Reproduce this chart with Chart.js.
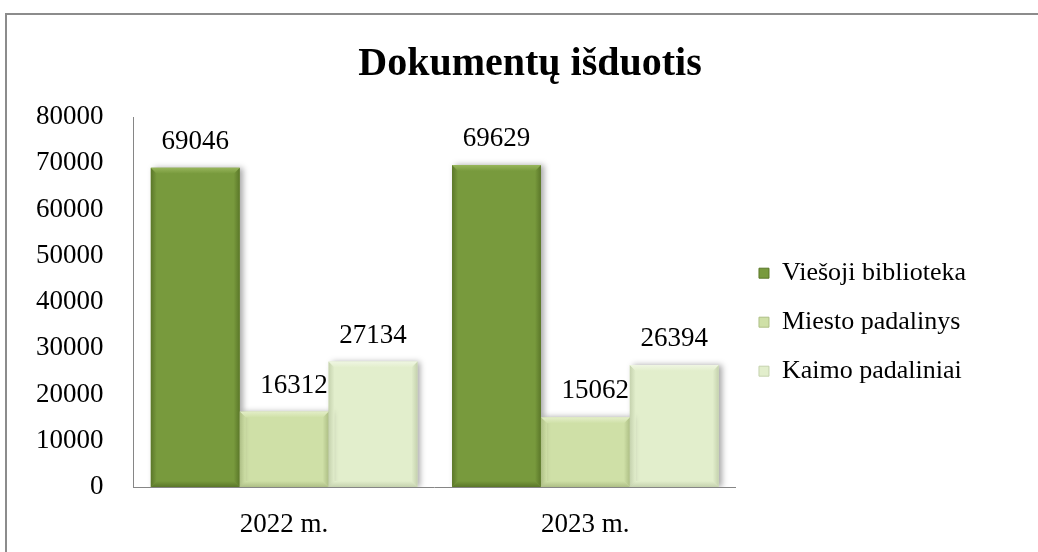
<!DOCTYPE html>
<html>
<head>
<meta charset="utf-8">
<script src="https://cdn.jsdelivr.net/npm/chart.js@4/dist/chart.umd.min.js"></script>
<style>
  html, body { margin: 0; padding: 0; background: #ffffff; }
  #wrap { width: 1038px; height: 552px; position: relative; }
</style>
</head>
<body>
<div id="wrap"><canvas id="c" width="1038" height="552"></canvas></div>
<script>
const titleText = 'Dokumentų išduotis';
const categories = ['2022 m.', '2023 m.'];
const seriesNames = ['Viešoji biblioteka', 'Miesto padalinys', 'Kaimo padaliniai'];
const viesojiBiblioteka = [69046, 69629];
const miestoPadalinys = [16312, 15062];
const kaimoPadaliniai = [27134, 26394];
const yTicks = [0, 10000, 20000, 30000, 40000, 50000, 60000, 70000, 80000];

const fills = ['#789a3d', '#cfe0a7', '#e2eecc'];
const tops = ['#98b65c', '#e3eec8', '#eff6e2'];
const darks = ['#5b7729', '#aebf86', '#c5d2ae'];
const labelShift = [0, 10, 0];

Chart.defaults.font.family = '"Liberation Serif", "Times New Roman", serif';
Chart.defaults.color = '#000000';

const framePlugin = {
  id: 'frame',
  beforeDraw(chart) {
    const ctx = chart.ctx;
    ctx.save();
    ctx.strokeStyle = '#8c8c8c';
    ctx.lineWidth = 2;
    ctx.beginPath();
    ctx.moveTo(6, 552);
    ctx.lineTo(6, 14);
    ctx.lineTo(1038, 14);
    ctx.stroke();
    ctx.restore();
  },
  afterLayout(chart) {
    if (chart.titleBlock) {
      const shift = 530 - (chart.titleBlock.left + chart.titleBlock.right) / 2;
      chart.titleBlock.left += shift;
      chart.titleBlock.right += shift;
    }
  }
};

const shadowPlugin = {
  id: 'barShadow',
  beforeDatasetDraw(chart) {
    const ctx = chart.ctx;
    ctx.save();
    ctx.shadowColor = 'rgba(0,0,0,0.35)';
    ctx.shadowBlur = 6;
    ctx.shadowOffsetX = 3;
    ctx.shadowOffsetY = 0;
  },
  afterDatasetDraw(chart) {
    chart.ctx.restore();
  }
};

const bevelPlugin = {
  id: 'bevel',
  afterDatasetsDraw(chart) {
    const ctx = chart.ctx;
    chart.data.datasets.forEach((ds, di) => {
      const meta = chart.getDatasetMeta(di);
      meta.data.forEach((bar, i) => {
        const p = bar.getProps(['x', 'y', 'base', 'width'], true);
        const l = p.x - p.width / 2, r = p.x + p.width / 2, t = p.y, b = p.base;
        const bv = 6;
        ctx.save();
        let g = ctx.createLinearGradient(l, 0, l + bv, 0);
        g.addColorStop(0, darks[di]);
        g.addColorStop(1, fills[di]);
        ctx.fillStyle = g;
        ctx.beginPath();
        ctx.moveTo(l, t); ctx.lineTo(l + bv, t + bv); ctx.lineTo(l + bv, b - bv); ctx.lineTo(l, b); ctx.closePath();
        ctx.fill();
        g = ctx.createLinearGradient(r - bv, 0, r, 0);
        g.addColorStop(0, fills[di]);
        g.addColorStop(1, darks[di]);
        ctx.fillStyle = g;
        ctx.beginPath();
        ctx.moveTo(r, t); ctx.lineTo(r - bv, t + bv); ctx.lineTo(r - bv, b - bv); ctx.lineTo(r, b); ctx.closePath();
        ctx.fill();
        g = ctx.createLinearGradient(0, t, 0, t + bv);
        g.addColorStop(0, tops[di]);
        g.addColorStop(1, fills[di]);
        ctx.fillStyle = g;
        ctx.beginPath();
        ctx.moveTo(l, t); ctx.lineTo(r, t); ctx.lineTo(r - bv, t + bv); ctx.lineTo(l + bv, t + bv); ctx.closePath();
        ctx.fill();
        g = ctx.createLinearGradient(0, b - bv, 0, b);
        g.addColorStop(0, fills[di]);
        g.addColorStop(1, darks[di]);
        ctx.fillStyle = g;
        ctx.beginPath();
        ctx.moveTo(l, b); ctx.lineTo(r, b); ctx.lineTo(r - bv, b - bv); ctx.lineTo(l + bv, b - bv); ctx.closePath();
        ctx.fill();
        ctx.restore();
      });
    });
    ctx.save();
    ctx.font = '27px "Liberation Serif", "Times New Roman", serif';
    ctx.fillStyle = '#000000';
    ctx.textAlign = 'center';
    ctx.textBaseline = 'middle';
    chart.data.datasets.forEach((ds, di) => {
      const meta = chart.getDatasetMeta(di);
      meta.data.forEach((bar, i) => {
        const p = bar.getProps(['x', 'y'], true);
        ctx.fillText(String(ds.data[i]), p.x + labelShift[di], p.y - 26);
      });
    });
    ctx.restore();
  }
};

new Chart(document.getElementById('c'), {
  type: 'bar',
  data: {
    labels: categories,
    datasets: [
      { label: seriesNames[0], data: viesojiBiblioteka, backgroundColor: fills[0], borderWidth: 0 },
      { label: seriesNames[1], data: miestoPadalinys, backgroundColor: fills[1], borderWidth: 0 },
      { label: seriesNames[2], data: kaimoPadaliniai, backgroundColor: fills[2], borderWidth: 0 }
    ]
  },
  options: {
    responsive: false,
    animation: false,
    devicePixelRatio: 1,
    layout: { padding: { left: 6, right: 62, top: 10, bottom: 0 } },
    datasets: { bar: { categoryPercentage: 0.885, barPercentage: 1.0 } },
    plugins: {
      title: {
        display: true,
        text: titleText,
        font: { size: 40, weight: 'bold' },
        color: '#000000',
        padding: { top: 31, bottom: 28 }
      },
      legend: {
        position: 'right',
        align: 'center',
        title: {
          display: true,
          text: ' ',
          font: { size: 12 },
          padding: { top: 68, bottom: 0 }
        },
        labels: {
          boxWidth: 10,
          boxHeight: 10,
          padding: 23,
          font: { size: 26 },
          color: '#000000',
          generateLabels(chart) {
            return chart.data.datasets.map((ds, i) => ({
              text: ds.label,
              fillStyle: fills[i],
              strokeStyle: darks[i],
              lineWidth: 1,
              datasetIndex: i,
              hidden: false
            }));
          }
        }
      },
      tooltip: { enabled: false }
    },
    scales: {
      x: {
        grid: { display: false, drawTicks: true, tickLength: 11 },
        border: { display: true, color: '#868686', width: 1 },
        ticks: { font: { size: 27, lineHeight: 2 }, color: '#000000', padding: 0 }
      },
      y: {
        min: 0,
        max: 80000,
        afterBuildTicks(scale) { scale.ticks = yTicks.map(v => ({ value: v })); },
        grid: { display: false, drawTicks: false },
        border: { display: true, color: '#868686', width: 1 },
        ticks: {
          font: { size: 27 },
          color: '#000000',
          padding: 30,
          callback: (v) => String(v)
        }
      }
    }
  },
  plugins: [framePlugin, shadowPlugin, bevelPlugin]
});
</script>
</body>
</html>
